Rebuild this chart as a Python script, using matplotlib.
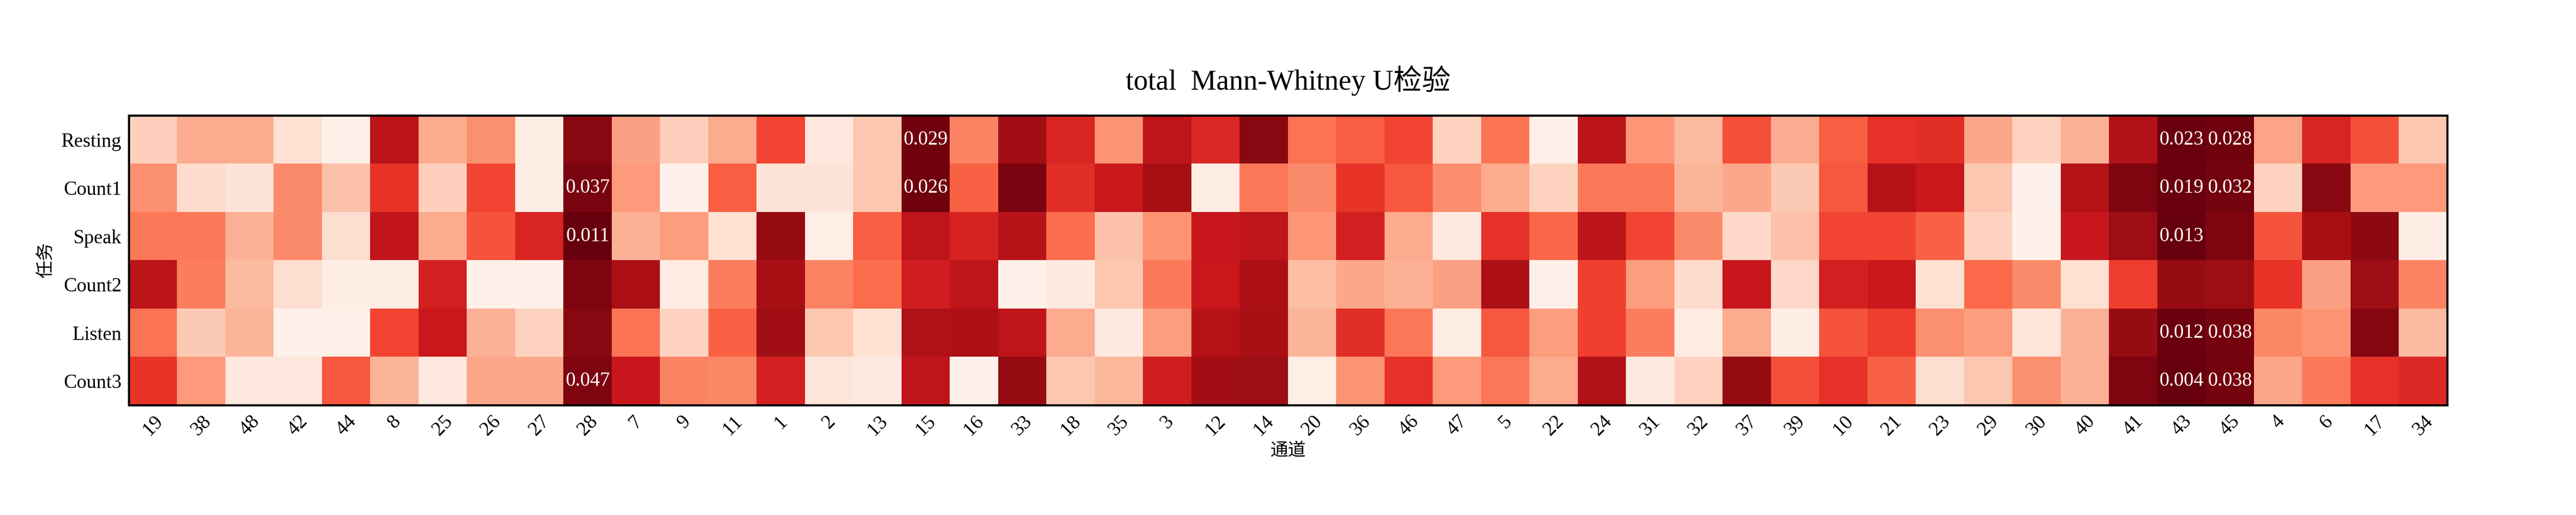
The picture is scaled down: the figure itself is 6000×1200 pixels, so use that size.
import numpy as np
import matplotlib
matplotlib.use("Agg")
import matplotlib.pyplot as plt

plt.rcParams['font.family'] = ['Liberation Serif', 'Noto Sans CJK SC', 'DejaVu Sans']
plt.rcParams['axes.unicode_minus'] = False

# Data (channel order as in the chart)
channels = [19, 38, 48, 42, 44, 8, 25, 26, 27, 28, 7, 9, 11, 1, 2, 13, 15, 16, 33, 18,
            35, 3, 12, 14, 20, 36, 46, 47, 5, 22, 24, 31, 32, 37, 39, 10, 21, 23, 29, 30,
            40, 41, 43, 45, 4, 6, 17, 34]
tasks = ["Resting", "Count1", "Speak", "Count2", "Listen", "Count3"]

resting = [0.18, 0.30, 0.30, 0.12, 0.03, 0.80, 0.30, 0.38, 0.05, 0.93, 0.33, 0.18, 0.30, 0.60, 0.08, 0.21,
           0.98, 0.42, 0.88, 0.70, 0.37, 0.79, 0.69, 0.93, 0.47, 0.53, 0.60, 0.17, 0.47, 0.03, 0.80, 0.36,
           0.25, 0.57, 0.29, 0.53, 0.66, 0.67, 0.31, 0.17, 0.28, 0.83, 0.99, 0.98, 0.32, 0.70, 0.57, 0.21]
count1 = [0.38, 0.14, 0.10, 0.40, 0.23, 0.65, 0.18, 0.60, 0.05, 0.96, 0.35, 0.02, 0.53, 0.10, 0.10, 0.21,
          0.98, 0.52, 0.96, 0.67, 0.75, 0.86, 0.05, 0.46, 0.40, 0.65, 0.55, 0.39, 0.30, 0.17, 0.45, 0.46,
          0.27, 0.31, 0.20, 0.55, 0.82, 0.75, 0.21, 0.02, 0.82, 0.95, 0.99, 0.97, 0.17, 0.93, 0.35, 0.35]
speak = [0.45, 0.45, 0.28, 0.40, 0.13, 0.78, 0.30, 0.56, 0.70, 1.00, 0.28, 0.34, 0.12, 0.90, 0.04, 0.53,
         0.79, 0.71, 0.81, 0.49, 0.23, 0.37, 0.76, 0.79, 0.36, 0.72, 0.30, 0.07, 0.66, 0.51, 0.80, 0.60,
         0.40, 0.15, 0.23, 0.60, 0.60, 0.52, 0.17, 0.02, 0.76, 0.89, 1.00, 0.95, 0.56, 0.86, 0.92, 0.05]
count2 = [0.80, 0.44, 0.25, 0.13, 0.05, 0.05, 0.72, 0.03, 0.03, 0.95, 0.85, 0.06, 0.44, 0.86, 0.42, 0.49,
          0.73, 0.79, 0.03, 0.07, 0.21, 0.45, 0.75, 0.85, 0.24, 0.31, 0.28, 0.33, 0.85, 0.03, 0.61, 0.34,
          0.14, 0.76, 0.15, 0.72, 0.75, 0.12, 0.50, 0.40, 0.12, 0.62, 0.90, 0.89, 0.65, 0.33, 0.89, 0.42]
listen = [0.47, 0.20, 0.27, 0.02, 0.03, 0.60, 0.75, 0.28, 0.17, 0.93, 0.47, 0.17, 0.52, 0.88, 0.21, 0.12,
          0.84, 0.85, 0.79, 0.30, 0.07, 0.34, 0.82, 0.86, 0.27, 0.67, 0.46, 0.05, 0.55, 0.34, 0.61, 0.44,
          0.06, 0.30, 0.05, 0.56, 0.62, 0.38, 0.34, 0.09, 0.28, 0.90, 0.99, 0.97, 0.41, 0.37, 0.94, 0.25]
count3 = [0.65, 0.35, 0.08, 0.08, 0.55, 0.27, 0.08, 0.31, 0.31, 0.95, 0.76, 0.42, 0.41, 0.72, 0.09, 0.07,
          0.79, 0.02, 0.90, 0.21, 0.26, 0.73, 0.88, 0.89, 0.04, 0.37, 0.66, 0.35, 0.46, 0.30, 0.83, 0.07,
          0.17, 0.90, 0.57, 0.66, 0.52, 0.13, 0.21, 0.38, 0.28, 0.95, 1.00, 0.97, 0.31, 0.45, 0.66, 0.69]

# significant p-values written in cells: (task, channel, p)
sig_task = ["Resting", "Resting", "Resting", "Count1", "Count1", "Count1", "Count1",
            "Speak", "Speak", "Listen", "Listen", "Count3", "Count3", "Count3"]
sig_channel = [15, 43, 45, 28, 15, 43, 45, 28, 43, 43, 45, 28, 43, 45]
sig_p = [0.029, 0.023, 0.028, 0.037, 0.026, 0.019, 0.032, 0.011, 0.013, 0.012, 0.038, 0.047, 0.004, 0.038]

matrix = np.array([resting, count1, speak, count2, listen, count3])

fig = plt.figure(figsize=(20, 4), dpi=300)
ax = fig.add_axes([0.05, 0.2133, 0.9, 0.5625])
ax.imshow(matrix, cmap="Reds", vmin=0, vmax=1, aspect="equal", interpolation="nearest")

for t, c, p in zip(sig_task, sig_channel, sig_p):
    ax.text(channels.index(c), tasks.index(t), "%.3f" % p, ha="center", va="center",
            color="white", fontsize=11)

ax.set_xticks(range(len(channels)))
ax.set_xticklabels([str(c) for c in channels], rotation=45, fontsize=11)
ax.set_yticks(range(len(tasks)))
ax.set_yticklabels(tasks, fontsize=11)
ax.tick_params(length=0, pad=4)
for s in ax.spines.values():
    s.set_linewidth(1.2)
ax.set_xlabel("通道", fontsize=10, labelpad=2)
ax.set_ylabel("任务", fontsize=10)

fig.text(0.5, 0.844, "total  Mann-Whitney U检验", ha="center", va="center", fontsize=16)

plt.savefig("out.png", dpi=300)
plt.close()
